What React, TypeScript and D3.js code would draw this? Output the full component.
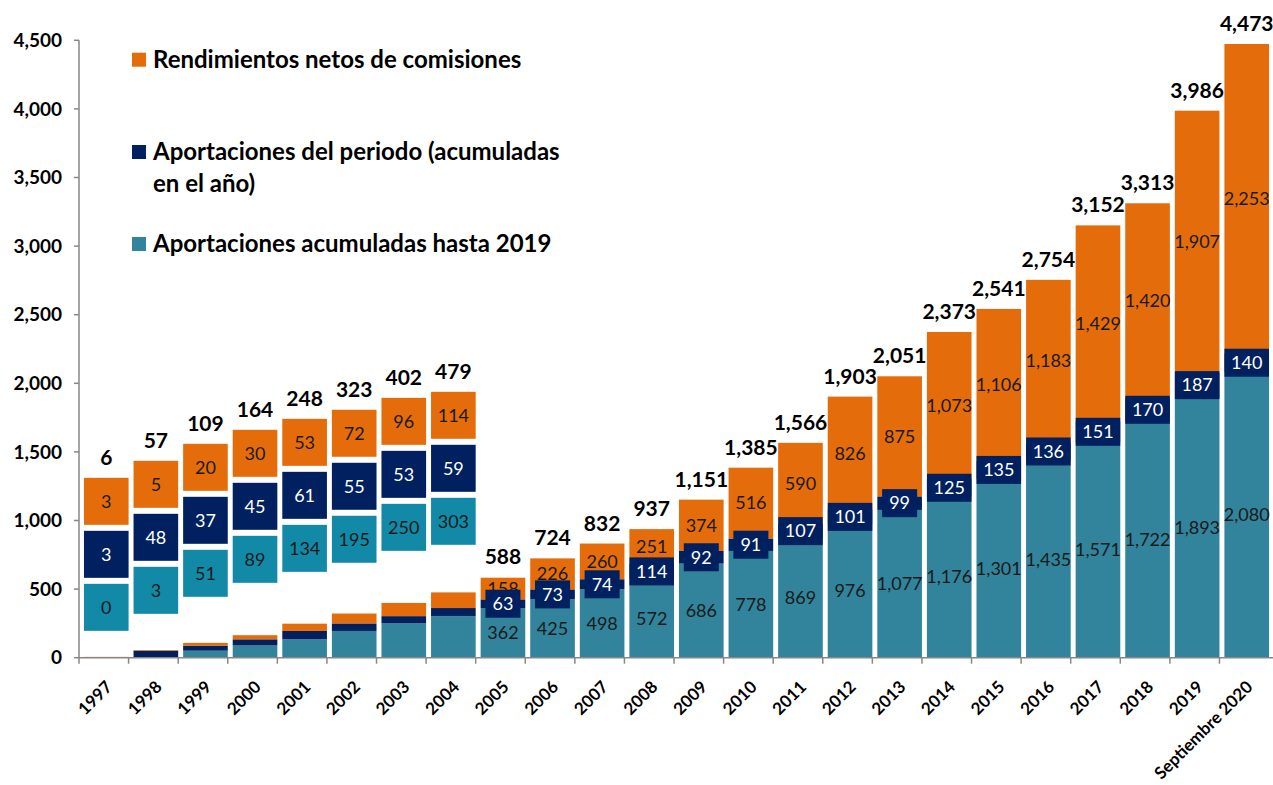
import React from "react";
import * as d3 from "d3";

const YEARS = [
  "1997", "1998", "1999", "2000", "2001", "2002", "2003", "2004", "2005", "2006",
  "2007", "2008", "2009", "2010", "2011", "2012", "2013", "2014", "2015", "2016",
  "2017", "2018", "2019", "Septiembre 2020",
];
const ACUMULADAS = [
  0, 3, 51, 89, 134, 195, 250, 303, 362, 425, 498, 572, 686, 778, 869, 976, 1077,
  1176, 1301, 1435, 1571, 1722, 1893, 2080,
];
const PERIODO = [
  3, 48, 37, 45, 61, 55, 53, 59, 63, 73, 74, 114, 92, 91, 107, 101, 99, 125, 135,
  136, 151, 170, 187, 140,
];
const RENDIMIENTOS = [
  3, 5, 20, 30, 53, 72, 96, 114, 158, 226, 260, 251, 374, 516, 590, 826, 875, 1073,
  1106, 1183, 1429, 1420, 1907, 2253,
];
const TOTALES = [
  6, 57, 109, 164, 248, 323, 402, 479, 588, 724, 832, 937, 1151, 1385, 1566, 1903,
  2051, 2373, 2541, 2754, 3152, 3313, 3986, 4473,
];
const Y_TICKS = [0, 500, 1000, 1500, 2000, 2500, 3000, 3500, 4000, 4500];
const LEGEND = [
  { key: "rend", lines: ["Rendimientos netos de comisiones"] },
  { key: "periodo", lines: ["Aportaciones del periodo (acumuladas", "en el año)"] },
  { key: "acum", lines: ["Aportaciones acumuladas hasta 2019"] },
];

// first years are too small to read, so their values go in floating boxes
const CALLOUT_COUNT = 8;
// top of each floating box stack, in axis units
const CALLOUT_TOP = [1311, 1435, 1559, 1661, 1741, 1807, 1894, 1938];

const W = 1273;
const H = 785;
const X0 = 79;
const X1 = 1274;
const Y0 = 657.7;
const Y1 = 40.3;

const COLORS = {
  acum: "#31849b",
  periodo: "#002060",
  rend: "#e46c0a",
  calloutAcum: "#128aa7",
};
const FONT = "Lato, 'Open Sans', sans-serif";
const AXIS = "#878787";

const fmt = d3.format(",");

export default function App() {
  const x = d3.scaleBand().domain(YEARS).range([X0, X1]).padding(0.1);
  const y = d3.scaleLinear().domain([0, 4500]).range([Y0, Y1]);

  const rows = YEARS.map((yr, i) => ({
    year: yr,
    acum: ACUMULADAS[i],
    periodo: PERIODO[i],
    rend: RENDIMIENTOS[i],
  }));
  const keys = ["acum", "periodo", "rend"];
  const stacked = d3.stack<any>().keys(keys)(rows);
  const bw = x.bandwidth();

  const boxH = 47;
  const gap = 6;

  return (
    <svg
      width={W}
      height={H}
      style={{ position: "absolute", left: 0, top: 0, background: "#fff" }}
      fontFamily={FONT}
    >
      {/* stacked bars */}
      {stacked.map((s) => (
        <g key={s.key}>
          {s.map((d, i) => (
            <rect
              key={i}
              x={x(YEARS[i])}
              width={bw}
              y={y(d[1])}
              height={Math.max(0, y(d[0]) - y(d[1]))}
              fill={(COLORS as any)[s.key]}
            />
          ))}
        </g>
      ))}

      {/* labels inside bars */}
      {stacked.map((s) =>
        s.key === "periodo"
          ? null
          : s.map((d, i) =>
              i < CALLOUT_COUNT ? null : (
                <text
                  key={s.key + i}
                  x={(x(YEARS[i]) as number) + bw / 2}
                  y={(y(d[0]) + y(d[1])) / 2}
                  dy="0.35em"
                  textAnchor="middle"
                  fontSize={18}
                  fill="#1a1a1a"
                >
                  {fmt((d.data as any)[s.key])}
                </text>
              )
            )
      )}
      {stacked[1].map((d, i) => {
        if (i < CALLOUT_COUNT) return null;
        const v = PERIODO[i];
        const cx = (x(YEARS[i]) as number) + bw / 2;
        const cy = (y(d[0]) + y(d[1])) / 2;
        const tw = Math.min(String(v).length * 9.5 + 16, bw);
        return (
          <g key={"p" + i}>
            <rect x={cx - tw / 2} y={cy - 14} width={tw} height={28} fill={COLORS.periodo} />
            <text x={cx} y={cy} dy="0.35em" textAnchor="middle" fontSize={18} fill="#fff">
              {fmt(v)}
            </text>
          </g>
        );
      })}

      {/* floating boxes for the first years */}
      {CALLOUT_TOP.map((top, i) => {
        const bx = x(YEARS[i]) as number;
        const t = y(top);
        const boxes = [
          { v: RENDIMIENTOS[i], fill: COLORS.rend, color: "#1a1a1a" },
          { v: PERIODO[i], fill: COLORS.periodo, color: "#fff" },
          { v: ACUMULADAS[i], fill: COLORS.calloutAcum, color: "#1a1a1a" },
        ];
        return (
          <g key={"c" + i}>
            {boxes.map((b, j) => {
              const by = t + j * (boxH + gap);
              return (
                <g key={j}>
                  <rect x={bx} y={by} width={bw} height={boxH} fill={b.fill} />
                  <text
                    x={bx + bw / 2}
                    y={by + boxH / 2}
                    dy="0.35em"
                    textAnchor="middle"
                    fontSize={18}
                    fill={b.color}
                  >
                    {fmt(b.v)}
                  </text>
                </g>
              );
            })}
          </g>
        );
      })}

      {/* totals */}
      {TOTALES.map((v, i) => {
        const top = i < CALLOUT_COUNT ? y(CALLOUT_TOP[i]) : y(v);
        return (
          <text
            key={"t" + i}
            x={(x(YEARS[i]) as number) + bw / 2}
            y={top - 13}
            textAnchor="middle"
            fontSize={21}
            fontWeight="bold"
            fill="#000"
          >
            {fmt(v)}
          </text>
        );
      })}

      {/* y axis */}
      <line x1={X0} x2={X0} y1={Y1} y2={Y0} stroke={AXIS} strokeWidth={1.5} />
      {Y_TICKS.map((t) => (
        <g key={t}>
          <line x1={X0 - 5} x2={X0} y1={y(t)} y2={y(t)} stroke={AXIS} strokeWidth={1.5} />
          <text
            x={62}
            y={y(t)}
            dy="0.35em"
            textAnchor="end"
            fontSize={19}
            fontWeight="bold"
            fill="#000"
          >
            {fmt(t)}
          </text>
        </g>
      ))}

      {/* x axis */}
      <line x1={X0} x2={X1} y1={Y0} y2={Y0} stroke={AXIS} strokeWidth={1.5} />
      {YEARS.map((yr, i) => {
        const left = X0 + i * x.step();
        return (
          <line key={"k" + i} x1={left} x2={left} y1={Y0} y2={Y0 + 6} stroke={AXIS} strokeWidth={1.5} />
        );
      })}
      {YEARS.map((yr) => {
        const px = (x(yr) as number) + bw / 2 + 7;
        const py = 688;
        return (
          <text
            key={"l" + yr}
            transform={`translate(${px},${py}) rotate(-45)`}
            textAnchor="end"
            fontSize={17}
            fontWeight="bold"
            fill="#000"
          >
            {yr}
          </text>
        );
      })}

      {/* legend */}
      {LEGEND.map((l, i) => {
        const top = [52.7, 145, 237][i];
        return (
          <g key={l.key}>
            <rect x={132} y={top} width={14} height={14} fill={(COLORS as any)[l.key]} />
            {l.lines.map((ln, j) => (
              <text
                key={j}
                x={153}
                y={top + 7 + j * 32}
                dy="0.35em"
                fontSize={24}
                fontWeight="bold"
                fill="#000"
              >
                {ln}
              </text>
            ))}
          </g>
        );
      })}
    </svg>
  );
}
